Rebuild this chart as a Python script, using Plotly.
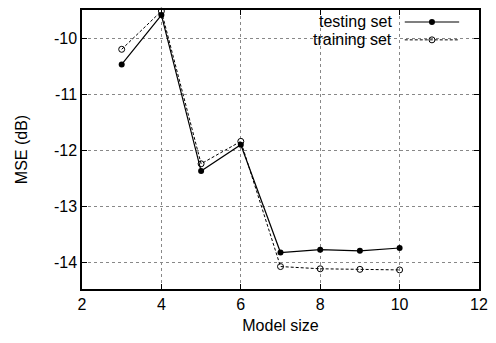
import plotly.graph_objects as go

model_size = [3, 4, 5, 6, 7, 8, 9, 10]
testing_mse = [-10.47, -9.59, -12.37, -11.90, -13.82, -13.77, -13.79, -13.74]
training_mse = [-10.20, -9.52, -12.24, -11.84, -14.07, -14.11, -14.12, -14.13]

x_ticks = [2, 4, 6, 8, 10, 12]
y_ticks = [-14, -13, -12, -11, -10]

FONT = "Liberation Sans, Arial, Helvetica, sans-serif"
FS = 16

fig = go.Figure()
fig.add_trace(go.Scatter(
    x=model_size, y=testing_mse, mode="lines+markers", name="testing set",
    line=dict(color="black", width=1.2),
    marker=dict(symbol="circle", size=6, color="black"),
    showlegend=False, cliponaxis=False,
))
fig.add_trace(go.Scatter(
    x=model_size, y=training_mse, mode="lines+markers", name="training set",
    line=dict(color="black", width=1, dash="3px,2px"),
    marker=dict(symbol="circle-open", size=6, color="black", line=dict(width=1)),
    showlegend=False, cliponaxis=False,
))

# legend drawn manually (text to the left of the sample, as in the reference)
fig.add_shape(type="rect", xref="paper", yref="paper", x0=0.489, x1=0.973, y0=0.865, y1=0.997,
              fillcolor="white", line=dict(width=0), layer="between")
leg_items = [("testing set", 0.957, "solid", "circle"), ("training set", 0.893, "3px,2px", "circle-open")]
x0, x1, xt = 0.813, 0.950, 0.786
for label, yy, dash, sym in leg_items:
    fig.add_annotation(x=xt, y=yy, xref="paper", yref="paper", text=label,
                       showarrow=False, xanchor="right", yanchor="middle",
                       font=dict(family=FONT, size=FS, color="black"))
    fig.add_shape(type="line", xref="paper", yref="paper", x0=x0, x1=x1, y0=yy, y1=yy,
                  line=dict(color="black", width=1.2 if dash == "solid" else 1, dash=dash))
fig.add_trace(go.Scatter(
    x=[(x0 + x1) / 2], y=[leg_items[0][1]], xaxis="x2", yaxis="y2", mode="markers",
    marker=dict(symbol="circle", size=6, color="black"), showlegend=False, hoverinfo="skip"))
fig.add_trace(go.Scatter(
    x=[(x0 + x1) / 2], y=[leg_items[1][1]], xaxis="x2", yaxis="y2", mode="markers",
    marker=dict(symbol="circle-open", size=6, color="black", line=dict(width=1)),
    showlegend=False, hoverinfo="skip"))

axis_common = dict(
    showline=True, linecolor="black", linewidth=1.5, mirror="ticks",
    ticks="inside", ticklen=5, tickcolor="black",
    showgrid=True, gridcolor="#888888", griddash="dot", gridwidth=1,
    zeroline=False, tickfont=dict(family=FONT, size=FS, color="black"),
)

fig.update_layout(
    width=496, height=343,
    margin=dict(l=82, r=13, t=8, b=54),
    paper_bgcolor="white", plot_bgcolor="white",
    font=dict(family=FONT, size=FS, color="black"),
    xaxis=dict(range=[2, 12], tickvals=x_ticks, ticktext=[str(v) for v in x_ticks],
               title=dict(text="Model size", font=dict(family=FONT, size=FS), standoff=8),
               **axis_common),
    yaxis=dict(range=[-14.47, -9.5], tickvals=y_ticks, ticktext=[str(v) for v in y_ticks],
               title=dict(text="MSE (dB)", font=dict(family=FONT, size=FS), standoff=22),
               **axis_common),
    xaxis2=dict(range=[0, 1], overlaying="x", visible=False, anchor="y2"),
    yaxis2=dict(range=[0, 1], overlaying="y", visible=False, anchor="x2"),
)

fig.write_html("out.html", config={"displayModeBar": False},
               post_script="document.body.style.margin='0px';")
